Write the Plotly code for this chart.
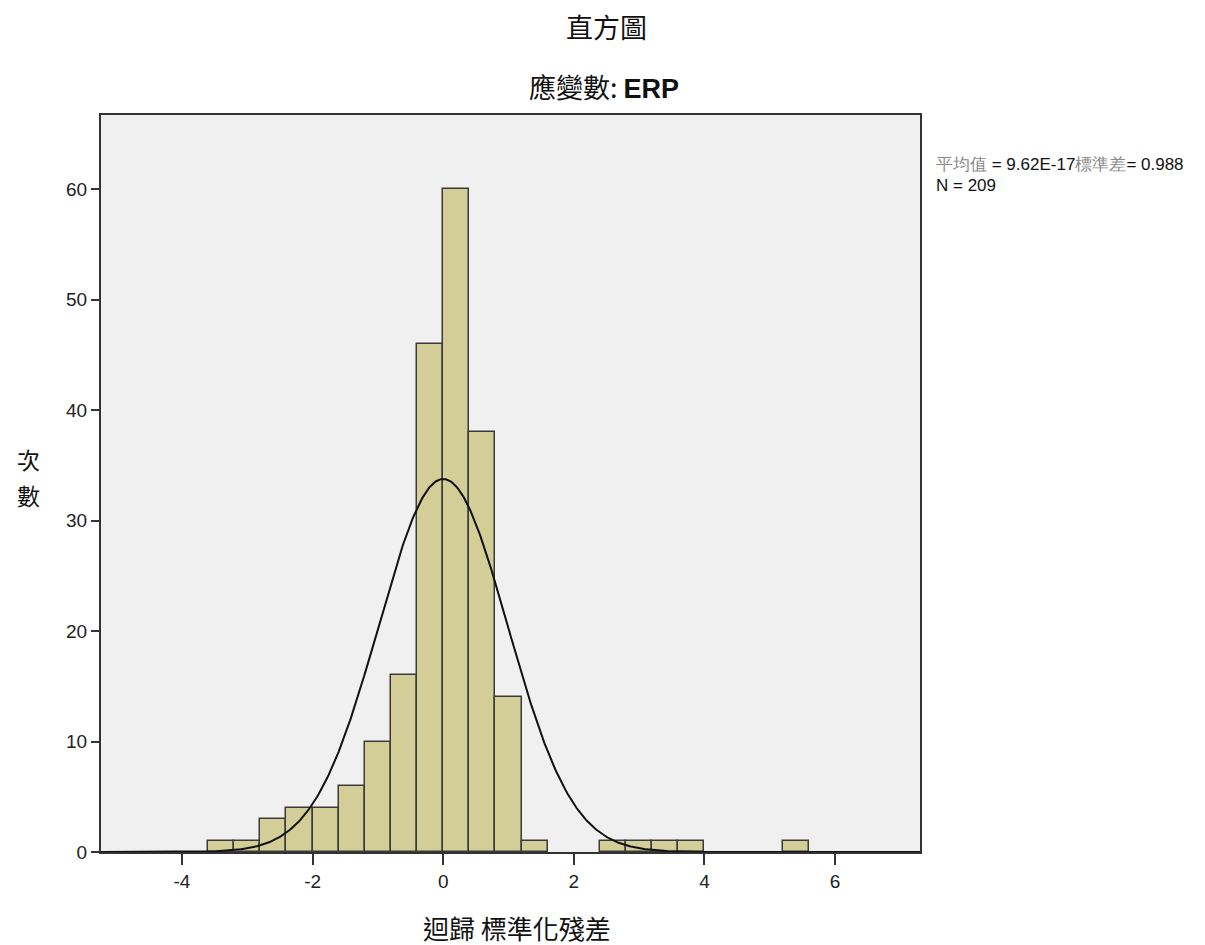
import numpy as np
import plotly.graph_objects as go

# data
bin_lefts = [-3.6, -3.2, -2.8, -2.4, -2.0, -1.6, -1.2, -0.8, -0.4, 0.0, 0.4, 0.8, 1.2,
             2.4, 2.8, 3.2, 3.6, 5.2]
counts = [1, 1, 3, 4, 4, 6, 10, 16, 46, 60, 38, 14, 1,
          1, 1, 1, 1, 1]
bin_width = 0.4
mean_val = 9.62e-17
sd_val = 0.988
n_val = 209
x_ticks = [-4, -2, 0, 2, 4, 6]
x_tick_text = ["-4", "-2", "0", "2", "4", "6"]
y_ticks = [0, 10, 20, 30, 40, 50, 60]

centers = [b + bin_width / 2 for b in bin_lefts]
xc = np.linspace(-5.24, 7.30, 800)
yc = n_val * bin_width / (sd_val * np.sqrt(2 * np.pi)) * np.exp(-0.5 * ((xc - mean_val) / sd_val) ** 2)

fig = go.Figure()
fig.add_trace(go.Bar(x=centers, y=counts, width=bin_width,
                     marker=dict(color="#D3CE97", line=dict(color="#3a3a3a", width=1.5)),
                     showlegend=False, hoverinfo="skip"))
fig.add_trace(go.Scatter(x=xc, y=yc, mode="lines", line=dict(color="#111111", width=2),
                         showlegend=False, hoverinfo="skip"))

cjk = "Noto Sans CJK TC"
axis_common = dict(ticks="outside", tickwidth=2, tickcolor="#333", showgrid=False,
                   zeroline=False, showline=True, linecolor="#333", linewidth=2,
                   mirror=True, tickfont=dict(family="Liberation Sans", size=19, color="#222"))

# page has an 8px body margin: figure is 1197x937 placed at (8, 8)
fig.update_layout(
    width=1197, height=937,
    margin=dict(l=93, r=285, t=107, b=93),
    paper_bgcolor="white", plot_bgcolor="#F0F0F0",
    bargap=0,
    xaxis=dict(range=[-5.24, 7.30], tickvals=x_ticks, ticktext=x_tick_text, ticklen=11,
               **axis_common),
    yaxis=dict(range=[0, 66.7], tickvals=y_ticks, ticklen=8, **axis_common),
)

# paper coords from page pixel coords (plot area: x 101..920, y 115..852)
def px(x):
    return (x - 101) / 819
def py(y):
    return (852 - y) / 737

def note(text, x, y, size, family=cjk, color="#111", xanchor="center"):
    fig.add_annotation(text=text, x=px(x), y=py(y), xref="paper", yref="paper",
                       showarrow=False, xanchor=xanchor, yanchor="middle",
                       font=dict(family=family, size=size, color=color))

note("直方圖", 606, 26, 27)
note("應變數: <b><span style='font-family:Liberation Sans'>ERP</span></b>", 604, 87, 27)
note("迴歸 標準化殘差", 517, 927, 26)
note("次", 28, 459, 23)
note("數", 28, 495, 23)
note("<span style='color:#8a8a8a'>平均值</span> = 9.62E-17<span style='color:#8a8a8a'>標準差</span>= 0.988",
     934, 164, 17, family="Liberation Sans", xanchor="left")
note("N = 209", 934, 185, 17, family="Liberation Sans", xanchor="left")

fig.write_html("out.html")
